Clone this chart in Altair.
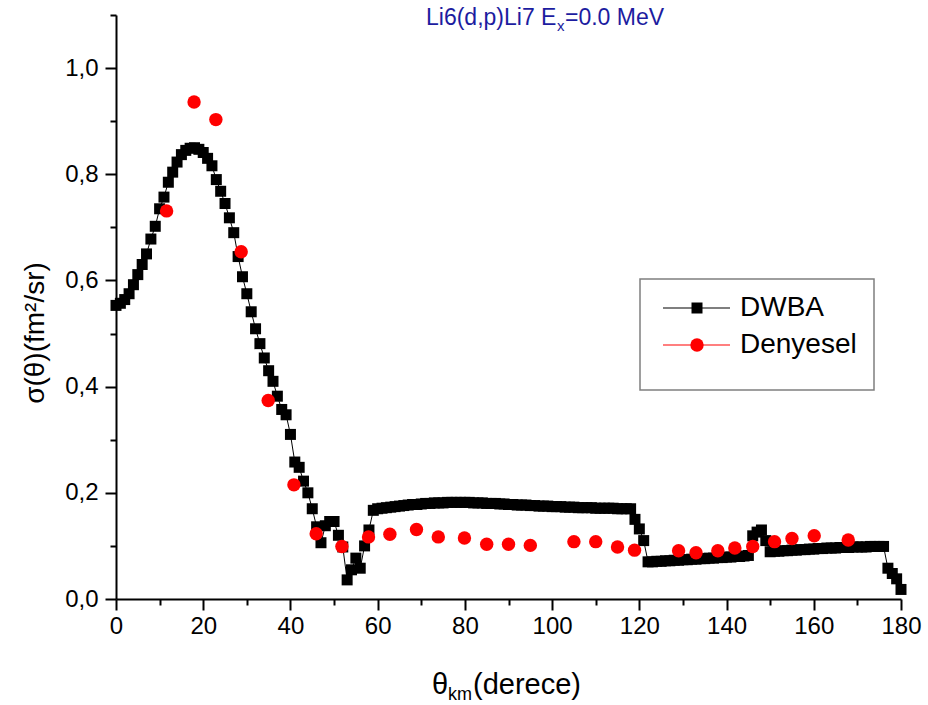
import altair as alt
import pandas as pd

# DWBA angular distribution, one point per degree
dwba_angle = list(range(0, 181))
dwba_value = [
    0.553, 0.557, 0.564, 0.575, 0.592, 0.611, 0.630, 0.650, 0.678, 0.702,
    0.735, 0.757, 0.785, 0.804, 0.823, 0.837, 0.845, 0.849, 0.850, 0.847,
    0.841, 0.830, 0.816, 0.790, 0.768, 0.745, 0.718, 0.690, 0.645, 0.607,
    0.575, 0.541, 0.509, 0.481, 0.454, 0.430, 0.410, 0.382, 0.357, 0.347,
    0.310, 0.258, 0.248, 0.222, 0.200, 0.170, 0.136, 0.106, 0.138, 0.146,
    0.146, 0.120, 0.098, 0.036, 0.055, 0.077, 0.058, 0.100, 0.130, 0.167,
    0.170, 0.171, 0.172, 0.173, 0.174, 0.175, 0.176, 0.177, 0.178, 0.178,
    0.179, 0.180, 0.180, 0.181, 0.181, 0.181, 0.182, 0.182, 0.182, 0.182,
    0.182, 0.182, 0.181, 0.181, 0.181, 0.180, 0.180, 0.180, 0.179, 0.179,
    0.178, 0.178, 0.177, 0.177, 0.177, 0.176, 0.176, 0.175, 0.175, 0.175,
    0.174, 0.174, 0.174, 0.173, 0.173, 0.173, 0.172, 0.172, 0.172, 0.172,
    0.171, 0.171, 0.171, 0.171, 0.171, 0.170, 0.170, 0.170, 0.170, 0.150,
    0.132, 0.110, 0.070, 0.070, 0.071, 0.071, 0.072, 0.072, 0.073, 0.073,
    0.074, 0.074, 0.075, 0.075, 0.076, 0.076, 0.077, 0.077, 0.078, 0.078,
    0.079, 0.079, 0.080, 0.080, 0.081, 0.082, 0.119, 0.126, 0.130, 0.110,
    0.089, 0.090, 0.090, 0.091, 0.091, 0.092, 0.092, 0.093, 0.093, 0.094,
    0.094, 0.095, 0.095, 0.096, 0.096, 0.096, 0.097, 0.097, 0.097, 0.098,
    0.098, 0.098, 0.098, 0.099, 0.099, 0.099, 0.099, 0.058, 0.048, 0.038,
    0.018,
]

# Measured cross sections
exp_angle = [11.6, 17.9, 22.9, 28.7, 34.9, 40.8, 45.9, 51.8, 57.9, 62.8,
             68.9, 73.9, 79.9, 85.0, 90.0, 95.0, 105.0, 110.0, 115.0, 118.9,
             129.0, 133.0, 138.0, 141.9, 146.0, 151.0, 155.0, 160.1, 167.9]
exp_value = [0.731, 0.936, 0.903, 0.654, 0.374, 0.215, 0.123, 0.099, 0.117, 0.122,
             0.131, 0.117, 0.115, 0.103, 0.103, 0.101, 0.108, 0.108, 0.098, 0.092,
             0.091, 0.087, 0.091, 0.096, 0.099, 0.108, 0.114, 0.119, 0.111]

series_names = ["DWBA", "Denyesel"]
x_ticks = [0, 10, 20, 30, 40, 50, 60, 70, 80, 90, 100, 110, 120, 130, 140, 150, 160, 170, 180]
y_ticks = [0.0, 0.1, 0.2, 0.3, 0.4, 0.5, 0.6, 0.7, 0.8, 0.9, 1.0, 1.1]

W, H = 785, 584
FONT = "Liberation Sans"
TITLE_BLUE = "#1c1ca0"

dwba = pd.DataFrame({"angle": dwba_angle, "value": dwba_value})
exp = pd.DataFrame({"angle": exp_angle, "value": exp_value})
one = pd.DataFrame({"k": [0]})

x_scale = alt.Scale(domain=[0, 180], nice=False, zero=False)
y_scale = alt.Scale(domain=[0, 1.1], nice=False)

x_axis = alt.Axis(
    values=x_ticks, title=None, grid=False,
    domainColor="black", domainWidth=2,
    tickColor="black", tickWidth=2,
    tickSize={"condition": {"test": "datum.value % 20 === 0", "value": 11}, "value": 6},
    labelExpr="datum.value % 20 === 0 ? datum.label : ''",
    labelFont=FONT, labelFontSize=24, labelColor="black", labelPadding=4,
    labelFlush=False,
)
y_axis = alt.Axis(
    values=y_ticks, title=None, grid=False,
    domainColor="black", domainWidth=2,
    tickColor="black", tickWidth=2,
    tickSize={"condition": {"test": "round(datum.value * 10) % 2 === 0", "value": 11}, "value": 6},
    labelExpr="round(datum.value * 10) % 2 === 0 ? replace(format(datum.value, '.1f'), '.', ',') : ''",
    labelFont=FONT, labelFontSize=24, labelColor="black", labelPadding=7,
    labelFlush=False,
)

x_enc = alt.X("angle:Q", scale=x_scale, axis=x_axis)
y_enc = alt.Y("value:Q", scale=y_scale, axis=y_axis)

dwba_line = alt.Chart(dwba).mark_line(color="black", strokeWidth=1).encode(x=x_enc, y=y_enc)
dwba_pts = alt.Chart(dwba).mark_point(
    shape="square", filled=True, color="black", size=121, opacity=1
).encode(x=x_enc, y=y_enc)
exp_pts = alt.Chart(exp).mark_point(
    shape="circle", filled=True, color="#ff0000", size=180, opacity=1
).encode(x=x_enc, y=y_enc)


def text(s, x, y, size, color="black", align="left", font=FONT, angle=0, baseline="alphabetic"):
    return alt.Chart(one).mark_text(
        text=s, align=align, baseline=baseline, font=font, fontSize=size,
        color=color, angle=angle,
    ).encode(x=alt.value(x), y=alt.value(y))


# Title with subscript
title = (
    text("Li6(d,p)Li7 E", 310, 10, 23, TITLE_BLUE)
    + text("x", 441, 16, 15, TITLE_BLUE)
    + text("=0.0 MeV", 449, 10, 23, TITLE_BLUE)
)

# Axis titles
x_title = (
    text("\u03b8", 316, 679, 29)
    + text("km", 332, 685, 18)
    + text("(derece)", 357, 679, 29)
)
y_title = text("\u03c3(\u03b8)(fm\u00b2/sr)", -80, 318, 28, align="center",
               angle=270, baseline="middle")

# Legend box
legend_box = alt.Chart(one).mark_rect(
    fill="white", stroke="#7f7f7f", strokeWidth=1.5
).encode(x=alt.value(524), x2=alt.value(758), y=alt.value(264), y2=alt.value(375))

leg_rows = [293, 330]
legend_parts = [legend_box]
for name, yy, col, shp, sz in zip(series_names, leg_rows, ["black", "#ff0000"],
                                  ["square", "circle"], [121, 180]):
    legend_parts.append(
        alt.Chart(one).mark_rule(color=col, strokeWidth=1.2).encode(
            x=alt.value(547), x2=alt.value(614), y=alt.value(yy)
        )
    )
    legend_parts.append(
        alt.Chart(one).mark_point(shape=shp, filled=True, color=col, size=sz, opacity=1).encode(
            x=alt.value(581), y=alt.value(yy)
        )
    )
    legend_parts.append(text(name, 624, yy, 28, baseline="middle"))

chart = alt.layer(
    dwba_line, dwba_pts, exp_pts, title, x_title, y_title, *legend_parts
).properties(
    width=W, height=H,
    autosize=alt.AutoSizeParams(type="none"),
    padding={"left": 116, "top": 15, "right": 27, "bottom": 106},
    background="white",
).configure_view(stroke=None)

chart.save("out.html", embed_options={"renderer": "svg", "actions": False})
